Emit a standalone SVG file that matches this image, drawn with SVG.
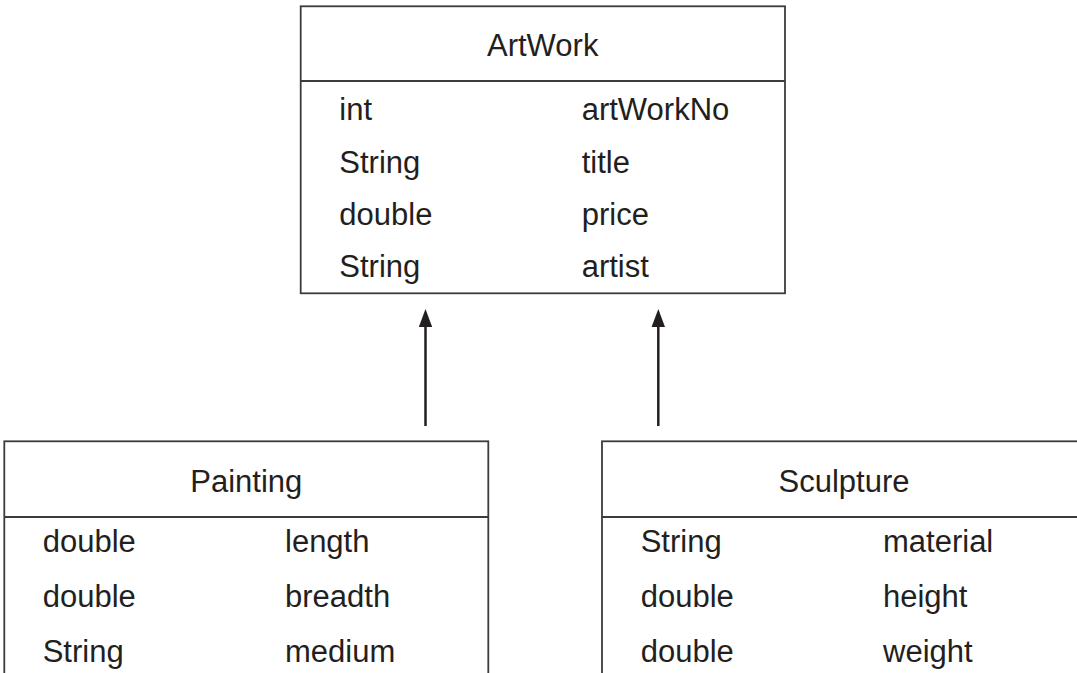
<svg xmlns="http://www.w3.org/2000/svg" width="1077" height="673" viewBox="0 0 1077 673">
  <style>
    .box { fill: #ffffff; stroke: #3c3c3c; stroke-width: 1.8; }
    .div { stroke: #3c3c3c; stroke-width: 1.8; }
    .t { font-family: "Liberation Sans", Arial, sans-serif; font-size: 31px; fill: #231f20; }
    .c { text-anchor: middle; }
    .conn { stroke: #231f20; stroke-width: 2.5; fill: none; marker-end: url(#arrow); }
  </style>
  <defs>
    <marker id="arrow" markerUnits="userSpaceOnUse" viewBox="0 -7 18 14" markerWidth="18" markerHeight="14" refX="9" refY="0" orient="auto">
      <path d="M0,-6.7 L18,0 L0,6.7 z" fill="#231f20"/>
    </marker>
  </defs>
  <rect width="1077" height="673" fill="#ffffff"/>

  <g id="artwork">
    <rect class="box" x="300.7" y="6.3" width="484.3" height="287"/>
    <line class="div" x1="300.7" y1="81" x2="785" y2="81"/>
    <text class="t c" x="542.7" y="55.7">ArtWork</text>
    <text class="t" x="339.3" y="120.2">int</text>
    <text class="t" x="581.7" y="120.2">artWorkNo</text>
    <text class="t" x="339.3" y="172.5">String</text>
    <text class="t" x="581.7" y="172.5">title</text>
    <text class="t" x="339.3" y="224.8">double</text>
    <text class="t" x="581.7" y="224.8">price</text>
    <text class="t" x="339.3" y="277">String</text>
    <text class="t" x="581.7" y="277">artist</text>
  </g>

  <g id="painting">
    <rect class="box" x="4.3" y="441.3" width="484" height="260"/>
    <line class="div" x1="4.3" y1="517" x2="488.3" y2="517"/>
    <text class="t c" x="246.3" y="491.7">Painting</text>
    <text class="t" x="42.7" y="552.3">double</text>
    <text class="t" x="285" y="552.3">length</text>
    <text class="t" x="42.7" y="607.3">double</text>
    <text class="t" x="285" y="607.3">breadth</text>
    <text class="t" x="42.7" y="662.3">String</text>
    <text class="t" x="285" y="662.3">medium</text>
  </g>

  <g id="sculpture">
    <rect class="box" x="602" y="441.3" width="484" height="260"/>
    <line class="div" x1="602" y1="517" x2="1086" y2="517"/>
    <text class="t c" x="844" y="491.7">Sculpture</text>
    <text class="t" x="640.7" y="552.3">String</text>
    <text class="t" x="883" y="552.3">material</text>
    <text class="t" x="640.7" y="607.3">double</text>
    <text class="t" x="883" y="607.3">height</text>
    <text class="t" x="640.7" y="662.3">double</text>
    <text class="t" x="883" y="662.3">weight</text>
  </g>

  <g id="connectors">
    <line class="conn" x1="425.5" y1="426" x2="425.5" y2="318"/>
    <line class="conn" x1="658.3" y1="426" x2="658.3" y2="318"/>
  </g>
</svg>
